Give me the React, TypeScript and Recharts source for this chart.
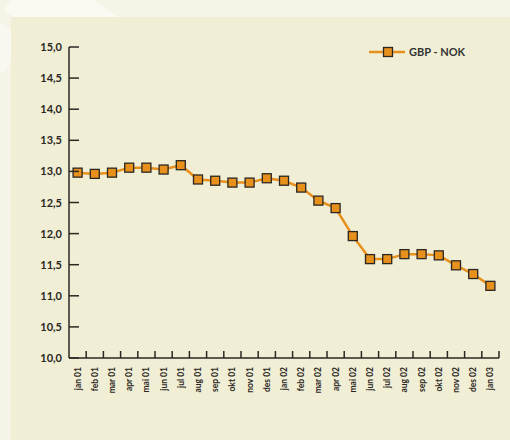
import { Line, LineChart, XAxis, YAxis } from 'recharts'

const months = [
  'jan 01', 'feb 01', 'mar 01', 'apr 01', 'mai 01', 'jun 01', 'jul 01', 'aug 01', 'sep 01', 'okt 01',
  'nov 01', 'des 01', 'jan 02', 'feb 02', 'mar 02', 'apr 02', 'mai 02', 'jun 02', 'jul 02', 'aug 02',
  'sep 02', 'okt 02', 'nov 02', 'des 02', 'jan 03',
]

const gbpNok = [
  12.98, 12.96, 12.98, 13.06, 13.06, 13.03, 13.1, 12.87, 12.85, 12.82,
  12.82, 12.89, 12.85, 12.74, 12.53, 12.41, 11.96, 11.59, 11.59, 11.67,
  11.67, 11.65, 11.49, 11.35, 11.16,
]

const yTicks = [10, 10.5, 11, 11.5, 12, 12.5, 13, 13.5, 14, 14.5, 15]

const data = months.map((m, i) => ({ month: m, value: gbpNok[i] }))

const INK = '#2b2723'
const ORANGE = '#e8901c'
const FONT = 'Lato, "Open Sans", sans-serif'
const BAND = 430 / months.length

function YTick({ x, y, payload }: any) {
  return (
    <g>
      <line x1={x} x2={x + 10} y1={y} y2={y} stroke={INK} strokeWidth={1.5} />
      <text
        x={x - 7}
        y={y}
        dy={4}
        textAnchor="end"
        fontFamily={FONT}
        fontWeight={700}
        fontSize={11}
        fill={INK}
      >
        {payload.value.toFixed(1).replace('.', ',')}
      </text>
    </g>
  )
}

function XTick({ x, y, payload }: any) {
  return (
    <g>
      <line x1={x + BAND / 2} x2={x + BAND / 2} y1={y} y2={y - 7} stroke={INK} strokeWidth={1.5} />
      <text
        x={x}
        y={y + 9}
        dy={3}
        textAnchor="end"
        transform={`rotate(-90, ${x}, ${y + 9})`}
        fontFamily={FONT}
        fontWeight={700}
        fontSize={8.5}
        fill={INK}
      >
        {payload.value}
      </text>
    </g>
  )
}

function Square({ cx, cy }: any) {
  if (cx == null || cy == null) return null
  return <rect x={cx - 4.5} y={cy - 4.5} width={9} height={9} fill={ORANGE} stroke={INK} strokeWidth={1.3} />
}

function LegendBox() {
  return (
    <div style={{ position: 'absolute', left: 369, top: 45, display: 'flex', alignItems: 'center', fontFamily: FONT }}>
      <svg width={36} height={12}>
        <line x1={0} x2={36} y1={6} y2={6} stroke={ORANGE} strokeWidth={2.5} />
        <rect x={14.5} y={1.5} width={9} height={9} fill={ORANGE} stroke={INK} strokeWidth={1.3} />
      </svg>
      <span style={{ marginLeft: 4, fontSize: 11, fontWeight: 700, color: '#333' }}>GBP - NOK</span>
    </div>
  )
}

export default function App() {
  return (
    <div style={{ position: 'fixed', left: 0, top: 0, width: 510, height: 440, overflow: 'hidden', background: '#f6f4e7' }}>
      <div
        style={{
          position: 'absolute', left: 40, top: -40, width: 60, height: 120,
          background: 'rgba(255,255,255,0.45)', transform: 'rotate(-55deg)',
        }}
      />
      <div
        style={{
          position: 'absolute', left: -30, top: 10, width: 40, height: 60,
          background: 'rgba(255,255,255,0.4)', transform: 'rotate(-55deg)',
        }}
      />
      <div style={{ position: 'absolute', left: 11, top: 17, right: 0, bottom: 0, background: '#f0eed5' }} />
      <div style={{ position: 'absolute', left: 0, top: 0 }}>
        <LineChart width={510} height={440} data={data} margin={{ top: 47, right: 11, left: 9, bottom: 0 }}>
          <XAxis
            dataKey="month"
            scale="band"
            interval={0}
            height={82}
            tickLine={false}
            tickSize={0}
            tickMargin={0}
            tick={<XTick />}
            axisLine={{ stroke: INK, strokeWidth: 1.5 }}
          />
          <YAxis
            domain={[10, 15]}
            ticks={yTicks}
            width={60}
            tickLine={false}
            tickSize={0}
            tickMargin={0}
            tick={<YTick />}
            axisLine={{ stroke: INK, strokeWidth: 1.5 }}
            allowDataOverflow
          />
          <Line
            dataKey="value"
            name="GBP - NOK"
            stroke={ORANGE}
            strokeWidth={2.5}
            dot={<Square />}
            activeDot={false}
            isAnimationActive={false}
          />
        </LineChart>
      </div>
      <LegendBox />
    </div>
  )
}
